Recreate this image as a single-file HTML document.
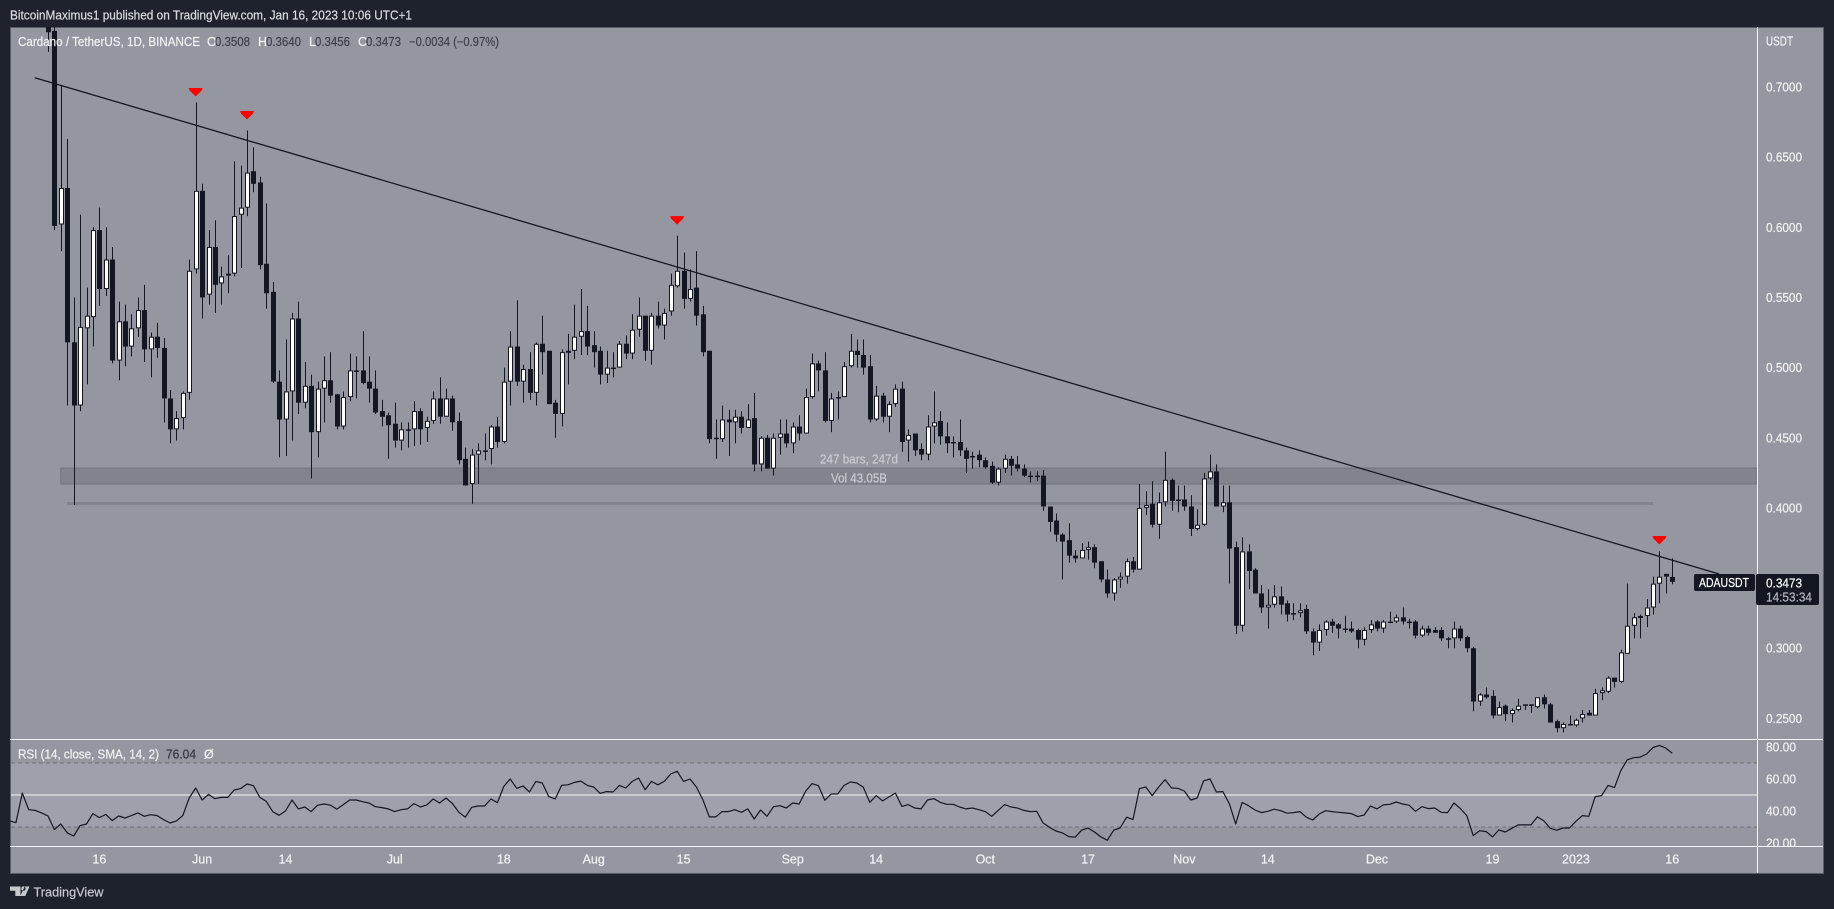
<!DOCTYPE html>
<html lang="en">
<head>
<meta charset="utf-8">
<title>ADAUSDT chart</title>
<style>
html,body{margin:0;padding:0;background:#1e222d;width:1834px;height:909px;overflow:hidden}
svg{display:block}
text{font-family:"Liberation Sans",sans-serif;font-size:12.5px;dominant-baseline:auto;stroke-width:.22px;stroke:#f0f1f3}
text[fill="#eceDf0"]{fill:#f0f1f3}
text[fill="#3f424c"]{stroke:#3f424c}
text[fill="#33363f"]{stroke:#33363f}
text[fill="#c9cbd1"]{stroke:#c9cbd1}
text[fill="#d8dae0"]{stroke:#d8dae0}
text[fill="#b2b5be"]{stroke:#b2b5be}
text[fill="#c6c8ce"]{stroke:#c6c8ce}
</style>
</head>
<body>
<svg id="chart" xmlns="http://www.w3.org/2000/svg" width="1834" height="909" viewBox="0 0 1834 909">
  <defs>
    <clipPath id="price-clip"><rect x="10" y="27" width="1747" height="712"/></clipPath>
    <clipPath id="rsi-clip"><rect x="10" y="739" width="1813" height="107"/></clipPath>
  </defs>
  <rect x="0" y="0" width="1834" height="909" fill="#1e222d"/>
  <text x="10" y="19.5" fill="#d8dae0" font-size="13" textLength="402" lengthAdjust="spacingAndGlyphs">BitcoinMaximus1 published on TradingView.com, Jan 16, 2023 10:06 UTC+1</text>
  <rect x="10.5" y="27.5" width="1813" height="846" fill="#94979f" stroke="#5a5d67" stroke-width="1"/>
  <g id="rsi-band-layer"></g>
  <g id="drawings-under" clip-path="url(#price-clip)"></g>
  <g id="candles" clip-path="url(#price-clip)"></g>
  <g id="drawings-over" clip-path="url(#price-clip)"></g>
  <g id="rsi-layer" clip-path="url(#rsi-clip)"></g>

  <line x1="1757.5" y1="27" x2="1757.5" y2="873" stroke="#f4f5f7" stroke-width="1"/>
  <line x1="10" y1="739.5" x2="1823" y2="739.5" stroke="#f4f5f7" stroke-width="1"/>
  <line x1="10" y1="846.5" x2="1823" y2="846.5" stroke="#f4f5f7" stroke-width="1"/>

  <g id="price-axis"></g>
  <g id="rsi-axis" clip-path="url(#rsi-clip)"></g>
  <g id="time-axis"></g>

  <g>
    <text x="18" y="46" fill="#eceDf0" font-size="13" textLength="182" lengthAdjust="spacingAndGlyphs">Cardano / TetherUS, 1D, BINANCE</text>
    <text x="207" y="46" fill="#eceDf0" font-size="13">O</text>
    <text x="215" y="46" fill="#3f424c" font-size="13" textLength="35" lengthAdjust="spacingAndGlyphs">0.3508</text>
    <text x="258" y="46" fill="#eceDf0" font-size="13">H</text>
    <text x="266" y="46" fill="#3f424c" font-size="13" textLength="35" lengthAdjust="spacingAndGlyphs">0.3640</text>
    <text x="309" y="46" fill="#eceDf0" font-size="13">L</text>
    <text x="315" y="46" fill="#3f424c" font-size="13" textLength="35" lengthAdjust="spacingAndGlyphs">0.3456</text>
    <text x="358" y="46" fill="#eceDf0" font-size="13">C</text>
    <text x="366" y="46" fill="#3f424c" font-size="13" textLength="35" lengthAdjust="spacingAndGlyphs">0.3473</text>
    <text x="409" y="46" fill="#3f424c" font-size="13" textLength="90" lengthAdjust="spacingAndGlyphs">−0.0034 (−0.97%)</text>
  </g>

  <text x="859" y="463.5" text-anchor="middle" fill="#c9cbd1" font-size="12.5" textLength="78" lengthAdjust="spacingAndGlyphs">247 bars, 247d</text>
  <text x="859" y="482.5" text-anchor="middle" fill="#c9cbd1" font-size="12.5" textLength="56" lengthAdjust="spacingAndGlyphs">Vol 43.05B</text>

  <text x="1766" y="45.5" fill="#eceDf0" font-size="12.5" textLength="27" lengthAdjust="spacingAndGlyphs">USDT</text>

  <g>
    <rect x="1694" y="574" width="61" height="17" rx="2" fill="#131722"/>
    <text x="1699" y="587" fill="#ffffff" font-size="12.5" textLength="50" lengthAdjust="spacingAndGlyphs">ADAUSDT</text>
  </g>
  <g>
    <rect x="1756" y="574" width="63" height="31" rx="2" fill="#131722"/>
    <text x="1766" y="587.5" fill="#ffffff" font-size="12.5" textLength="36" lengthAdjust="spacingAndGlyphs">0.3473</text>
    <text x="1766" y="601.5" fill="#b2b5be" font-size="12.5" textLength="46" lengthAdjust="spacingAndGlyphs">14:53:34</text>
  </g>

  <g>
    <text x="18" y="758.5" fill="#eceDf0" font-size="12.5" textLength="141" lengthAdjust="spacingAndGlyphs">RSI (14, close, SMA, 14, 2)</text>
    <text x="166" y="758.5" fill="#33363f" font-size="12.5" textLength="30" lengthAdjust="spacingAndGlyphs">76.04</text>
    <text x="204" y="758.5" fill="#eceDf0" font-size="12.5">Ø</text>
  </g>

  <g>
    <path d="M10 886.5h10.5v9.5h-5.2v-5.3h-5.3z M21.2 888.6a2.2 2.2 0 1 0 4.4 0a2.2 2.2 0 1 0-4.4 0z M24.6 886.5h4.9l-4.2 9.5h-5z" fill="#c6c8ce"/>
    <text x="33.5" y="896.5" fill="#c6c8ce" font-size="13.5" textLength="70" lengthAdjust="spacingAndGlyphs">TradingView</text>
  </g>
</svg>

<script>
/* ---- chart data ---- */
const firstBarDate = '2022-05-08';
const opens = [
.78,.74,.602,.628,.518,.473,.528,.536,.598,.556,
.577,.505,.533,.515,.528,.541,.513,.522,.514,.478,
.456,.464,.482,.57,.626,.552,.586,.56,.566,.567,
.609,.614,.64,.632,.574,.554,.49,.463,.483,.535,
.475,.487,.454,.485,.491,.481,.458,.479,.498,.498,
.49,.485,.469,.466,.46,.448,.456,.456,.469,.457,
.462,.478,.465,.478,.462,.435,.417,.438,.441,.442,
.458,.447,.49,.515,.49,.499,.482,.517,.512,.475,
.467,.511,.512,.522,.526,.516,.512,.495,.5,.5,
.517,.51,.527,.537,.512,.537,.53,.54,.558,.569,
.549,.557,.538,.512,.45,.449,.463,.461,.465,.457,
.464,.431,.45,.428,.45,.453,.446,.458,.453,.479,
.503,.498,.462,.479,.479,.501,.512,.509,.501,.463,
.48,.465,.474,.485,.448,.453,.442,.438,.458,.462,
.451,.447,.447,.441,.437,.438,.434,.43,.418,.428,
.435,.431,.428,.423,.423,.423,.401,.391,.381,.377,
.366,.364,.37,.372,.362,.349,.339,.349,.351,.362,
.356,.4,.403,.388,.404,.42,.406,.406,.401,.385,
.388,.421,.426,.401,.404,.372,.316,.369,.356,.339,
.329,.331,.337,.332,.325,.325,.328,.312,.304,.313,
.319,.317,.314,.314,.313,.306,.313,.319,.314,.319,
.319,.322,.319,.319,.309,.314,.313,.313,.307,.307,
.314,.308,.3,.262,.267,.266,.252,.259,.253,.256,
.26,.26,.258,.265,.26,.248,.243,.246,.245,.25,
.254,.252,.268,.269,.279,.276,.296,.316,.322,.323,
.329,.346,.353,.3508];
const highs = [
.80,.745,.701,.663,.55,.609,.557,.6,.614,.6,
.586,.547,.545,.538,.55,.559,.525,.532,.521,.484,
.469,.483,.577,.689,.631,.598,.605,.572,.58,.647,
.644,.669,.657,.636,.617,.561,.498,.52,.539,.547,
.504,.495,.49,.508,.511,.481,.483,.51,.508,.526,
.508,.498,.477,.468,.475,.461,.461,.476,.471,.465,
.483,.493,.485,.48,.468,.443,.442,.446,.453,.459,
.465,.5,.526,.548,.502,.511,.518,.537,.512,.477,
.513,.524,.545,.556,.544,.526,.515,.512,.511,.519,
.523,.538,.55,.537,.539,.547,.542,.567,.594,.582,
.57,.583,.544,.512,.463,.473,.47,.47,.469,.474,
.482,.451,.452,.453,.463,.463,.461,.466,.485,.51,
.505,.511,.482,.483,.504,.524,.52,.52,.509,.487,
.482,.476,.488,.49,.456,.453,.446,.466,.483,.469,
.461,.451,.463,.443,.44,.441,.436,.433,.429,.438,
.437,.437,.431,.426,.426,.427,.401,.396,.382,.389,
.37,.375,.376,.374,.362,.356,.35,.354,.364,.365,
.417,.412,.419,.411,.44,.421,.416,.416,.409,.399,
.425,.438,.431,.416,.416,.376,.379,.374,.357,.345,
.342,.345,.344,.334,.332,.332,.331,.314,.317,.32,
.321,.318,.323,.319,.314,.315,.32,.32,.32,.326,
.324,.329,.321,.32,.316,.316,.315,.315,.308,.319,
.316,.309,.301,.268,.272,.27,.262,.26,.257,.264,
.26,.26,.265,.267,.261,.249,.247,.252,.25,.256,
.256,.271,.272,.28,.279,.299,.346,.325,.324,.335,
.351,.369,.353,.364];
const lows = [
.725,.598,.583,.473,.402,.469,.488,.515,.544,.551,
.503,.491,.501,.508,.522,.504,.493,.507,.461,.446,
.448,.456,.477,.567,.535,.545,.539,.545,.553,.565,
.571,.608,.625,.57,.542,.489,.436,.437,.448,.467,
.471,.421,.436,.461,.475,.456,.456,.476,.478,.488,
.475,.467,.458,.435,.443,.441,.443,.444,.445,.447,
.46,.46,.465,.455,.431,.416,.403,.417,.434,.431,
.443,.446,.473,.487,.475,.477,.473,.495,.474,.45,
.458,.488,.506,.509,.509,.5,.488,.489,.493,.5,
.506,.506,.522,.505,.502,.528,.52,.537,.557,.542,
.547,.53,.508,.446,.435,.447,.437,.446,.453,.457,
.426,.426,.428,.423,.438,.443,.439,.448,.453,.478,
.483,.461,.454,.463,.479,.5,.5,.495,.461,.462,
.461,.454,.472,.44,.433,.437,.434,.434,.446,.445,
.439,.436,.437,.425,.428,.429,.428,.417,.416,.425,
.423,.426,.422,.418,.419,.398,.383,.376,.349,.361,
.361,.364,.363,.357,.347,.336,.334,.343,.346,.354,
.356,.395,.386,.378,.401,.398,.397,.398,.38,.384,
.387,.42,.401,.397,.346,.31,.312,.342,.339,.325,
.314,.329,.324,.319,.32,.322,.31,.295,.298,.309,
.311,.307,.311,.311,.3,.302,.311,.312,.311,.318,
.318,.317,.314,.307,.308,.309,.311,.305,.3,.3,
.305,.297,.255,.259,.264,.25,.252,.248,.247,.255,
.256,.254,.257,.257,.247,.24,.24,.245,.244,.247,
.252,.252,.263,.268,.272,.275,.296,.307,.307,.315,
.324,.332,.339,.3456];
const closes = [
.739,.601,.628,.518,.473,.529,.537,.598,.556,.577,
.505,.533,.515,.528,.541,.513,.522,.514,.478,.456,
.464,.482,.569,.626,.55,.586,.559,.565,.567,.608,
.614,.639,.631,.573,.553,.49,.463,.483,.535,.475,
.487,.454,.485,.491,.48,.458,.479,.498,.498,.489,
.485,.468,.465,.459,.448,.456,.456,.469,.456,.462,
.478,.465,.478,.461,.434,.416,.438,.441,.44,.458,
.447,.49,.515,.49,.499,.482,.517,.511,.474,.467,
.511,.512,.522,.526,.515,.511,.495,.5,.499,.517,
.51,.527,.537,.512,.537,.53,.539,.559,.569,.549,
.556,.537,.511,.449,.449,.463,.461,.465,.457,.463,
.431,.45,.428,.45,.453,.446,.458,.453,.479,.503,
.498,.462,.478,.478,.501,.512,.509,.5,.463,.48,
.465,.474,.485,.447,.452,.441,.438,.458,.461,.451,
.446,.446,.441,.435,.437,.434,.429,.418,.428,.435,
.43,.428,.423,.422,.422,.401,.39,.381,.376,.366,
.364,.37,.372,.361,.349,.339,.349,.351,.362,.356,
.4,.402,.388,.404,.42,.405,.405,.401,.385,.388,
.421,.426,.401,.404,.371,.316,.369,.355,.339,.329,
.331,.337,.331,.324,.324,.327,.312,.304,.313,.319,
.316,.314,.313,.312,.306,.313,.317,.314,.319,.319,
.322,.319,.318,.309,.314,.311,.311,.307,.307,.314,
.307,.3,.262,.267,.265,.252,.258,.253,.256,.259,
.259,.259,.265,.26,.247,.243,.246,.245,.249,.253,
.252,.268,.27,.279,.276,.297,.316,.322,.323,.329,
.346,.351,.351,.3473];
/* RSI starts six bars before the first candle in view */
const rsiFirstBar = -6;
const rsiValues = [
33.8,32.7,51.2,40.8,40.4,38.8,36.9,28.4,31.9,26.3,
24.4,30.9,31.9,38.4,35.9,37.9,34.0,36.9,35.6,37.1,
38.8,36.7,37.7,37.1,34.6,32.5,33.8,37.1,48.1,54.4,
46.9,50.4,47.7,48.5,48.5,53.1,54.0,56.9,55.8,48.5,
46.0,39.6,37.3,40.0,46.9,41.3,42.5,39.6,43.6,44.4,
43.6,41.1,44.0,46.9,46.9,45.8,45.0,42.7,42.1,41.3,
39.6,40.8,41.3,44.6,42.5,43.8,47.5,45.0,48.1,44.6,
39.2,36.1,42.3,43.1,43.1,47.5,45.2,55.4,60.0,54.2,
55.6,51.9,58.5,57.5,49.0,47.5,56.0,56.4,57.9,58.7,
56.0,55.0,51.0,52.1,51.9,56.0,
54.4,58.5,60.6,53.3,58.5,56.4,58.5,63.1,64.8,58.5,
60,55,47.1,36.3,36.3,39.6,39.6,40.8,39.2,41.3,
35,40.6,36.7,42.7,43.3,41.9,45,44.4,52.3,57.1,
55.8,46.7,50.6,50.6,56,58.1,57.5,54.8,45.4,49.6,
46.3,48.8,51.2,42.9,44,41.9,41.3,46.9,47.7,45.4,
44.2,44.2,42.5,41.3,41.9,40.8,39.6,36.7,40.4,44,
42.5,41.9,40.4,39.6,39.8,32.5,29.8,27.5,26.3,24,
23.6,28,29.4,26.9,23.8,21.7,28,29.4,36.1,34.6,
54,55,49.6,55,59.6,54.4,54.2,52.5,46.9,48.1,
58.9,60,51.9,52.1,44.6,31.9,
45.4,43.3,40.6,39.0,39.8,41.1,40.2,38.6,39.0,39.6,
36.1,34.4,38.1,40.2,39.6,39.2,38.8,38.4,36.5,37.5,
43.1,41.3,43.8,44.2,45.6,44.4,43.6,39.8,42.7,41.5,
41.9,39.2,39.0,45.0,41.5,37.1,24.6,27.7,27.1,23.8,
28.2,26.9,29.2,31.3,31.3,31.3,36.3,33.8,29.2,28.0,
29.4,29.4,33.6,37.1,36.7,49.0,49.6,56.0,54.6,65.4,
72.0,73.3,73.7,75.6,79.7,81.0,79.3,76.04];
const priceTicks = [0.70,0.65,0.60,0.55,0.50,0.45,0.40,0.30,0.25];
const rsiTicks = [80,60,40,20];
const timeTickLabels = ['16','Jun','14','Jul','18','Aug','15','Sep','14','Oct','17','Nov','14','Dec','19','2023','16'];
const timeTickDates = ['2022-05-16','2022-06-01','2022-06-14','2022-07-01','2022-07-18','2022-08-01','2022-08-15','2022-09-01','2022-09-14','2022-10-01','2022-10-17','2022-11-01','2022-11-14','2022-12-01','2022-12-19','2023-01-01','2023-01-16'];
const markerBars = [23,31,98,251];
const markerPrices = [0.6936,0.6772,0.6023,0.3743];
const trendBars = [-2.07,260.3];
const trendPrices = [0.7066,0.3529];
const zoneBars = [2,270];
const zonePrices = [0.4284,0.417];
const measureBars = [3,250];
const measurePrice = 0.4031;

/* ---- axis functions ---- */
const NS = 'http://www.w3.org/2000/svg';
const DARK = '#131722';
function xBar(i){ return 48 + 6.42 * i; }
function yPrice(p){ return 87 + (0.7 - p) * 1403; }
function yRsi(v){ return 795 + (50 - v) * 1.6; }
function barOfDate(d){ return (Date.parse(d) - Date.parse(firstBarDate)) / 86400000; }
function make(tag, attrs, parent){
  const el = document.createElementNS(NS, tag);
  for (const k in attrs) el.setAttribute(k, attrs[k]);
  parent.appendChild(el);
  return el;
}

/* ---- price pane drawings ---- */
const under = document.getElementById('drawings-under');
const zone = make('rect', {
  x: xBar(zoneBars[0]), y: yPrice(zonePrices[0]),
  width: Math.min(xBar(zoneBars[1]), 1757) - xBar(zoneBars[0]),
  height: yPrice(zonePrices[1]) - yPrice(zonePrices[0]),
  fill: '#81848d', stroke: '#71747d', 'stroke-width': 1
}, under);


const measure = make('line', {
  x1: xBar(measureBars[0]), x2: xBar(measureBars[1]),
  y1: yPrice(measurePrice), y2: yPrice(measurePrice),
  stroke: '#81848d', 'stroke-width': 3
}, under);



/* ---- candles ---- */
const candleLayer = document.getElementById('candles');
opens.forEach(function(o, i){
  const c = closes[i];
  const cx = Math.round(xBar(i)) + 0.5;
  const wick = make('line', {
    x1: cx, x2: cx, y1: yPrice(highs[i]), y2: yPrice(lows[i]),
    stroke: DARK, 'stroke-width': 1
  }, candleLayer);
  
  
  const top = yPrice(Math.max(o, c));
  const h = Math.max(Math.abs(yPrice(o) - yPrice(c)), 1.5);
  const up = c > o;
  const body = make('rect', up ? {
    x: cx - 2, y: top + 0.5, width: 4, height: Math.max(h - 1, 1),
    fill: '#ffffff', stroke: DARK, 'stroke-width': 1
  } : {
    x: cx - 2.5, y: top, width: 5, height: h, fill: DARK
  }, candleLayer);
  
  
});

/* ---- trend line and markers ---- */
const over = document.getElementById('drawings-over');
const trend = make('line', {
  x1: xBar(trendBars[0]), y1: yPrice(trendPrices[0]),
  x2: xBar(trendBars[1]), y2: yPrice(trendPrices[1]),
  stroke: DARK, 'stroke-width': 1.3
}, over);


markerBars.forEach(function(b, i){
  const mx = xBar(b);
  const my = yPrice(markerPrices[i]);
  const tri = make('path', {
    d: 'M' + (mx - 7) + ' ' + (my - 8) + 'h14l-1 2.5-5.5 5.5a0.7 0.7 0 0 1-1 0l-5.5-5.5z',
    fill: '#ff0000'
  }, over);
  
  
});

/* ---- RSI pane ---- */
const bandLayer = document.getElementById('rsi-band-layer');
const band = make('rect', {
  x: 11, y: yRsi(70), width: 1746, height: yRsi(30) - yRsi(70), fill: '#9ea1ab'
}, bandLayer);


[70, 30].forEach(function(level){
  const dash = make('line', {
    x1: 11, x2: 1757, y1: yRsi(level), y2: yRsi(level),
    stroke: '#6f727b', 'stroke-width': 1, 'stroke-dasharray': '4 3'
  }, bandLayer);
  
  
});
const mid = make('line', {
  x1: 11, x2: 1757, y1: yRsi(50), y2: yRsi(50), stroke: '#f4f5f7', 'stroke-width': 1
}, bandLayer);



const rsiLayer = document.getElementById('rsi-layer');
const rsiPoints = rsiValues.map(function(v, k){
  return xBar(rsiFirstBar + k).toFixed(1) + ',' + yRsi(v).toFixed(1);
}).join(' ');
const rsiLine = make('polyline', {
  points: rsiPoints, fill: 'none', stroke: DARK, 'stroke-width': 1.2, 'stroke-linejoin': 'round'
}, rsiLayer);



/* ---- axes ---- */
const priceAxis = document.getElementById('price-axis');
priceTicks.forEach(function(p){
  const t = make('text', {
    x: 1766, y: yPrice(p) + 4.5, fill: '#eceDf0', 'font-size': 12.5,
    textLength: 36, lengthAdjust: 'spacingAndGlyphs'
  }, priceAxis);
  t.textContent = p.toFixed(4);
  
  
});
const rsiAxis = document.getElementById('rsi-axis');
rsiTicks.forEach(function(v){
  const t = make('text', {
    x: 1766, y: yRsi(v) + 4.5, fill: '#eceDf0', 'font-size': 12.5,
    textLength: 30, lengthAdjust: 'spacingAndGlyphs'
  }, rsiAxis);
  t.textContent = v.toFixed(2);
  
  
});
const timeAxis = document.getElementById('time-axis');
timeTickLabels.forEach(function(label, i){
  const t = make('text', {
    x: xBar(barOfDate(timeTickDates[i])), y: 863.5, fill: '#eceDf0',
    'font-size': 12.5, 'text-anchor': 'middle'
  }, timeAxis);
  t.textContent = label;
  
  
});
</script>
</body>
</html>
